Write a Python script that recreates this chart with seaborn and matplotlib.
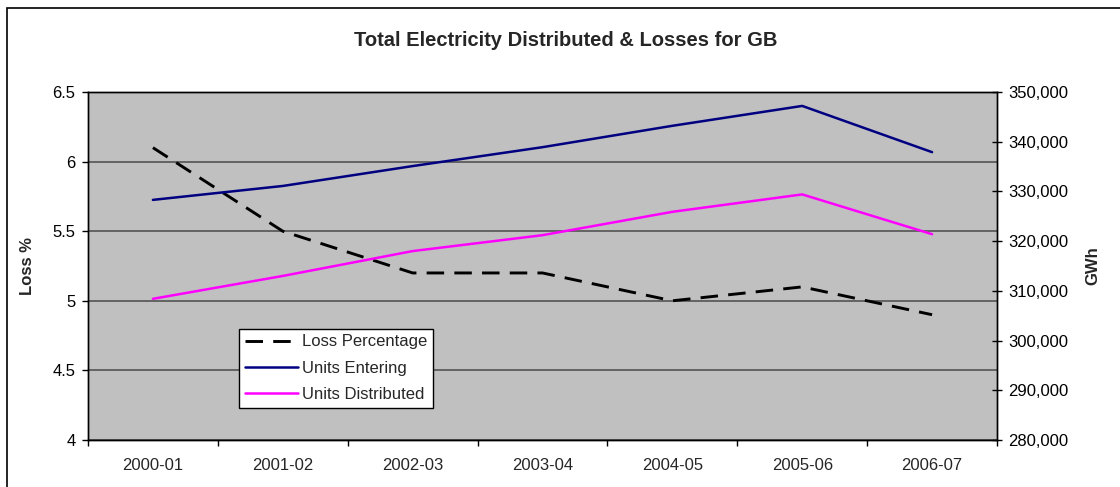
import numpy as np
import pandas as pd
import matplotlib
matplotlib.use("Agg")
import matplotlib.pyplot as plt
from matplotlib.patches import Rectangle
from matplotlib.ticker import FuncFormatter, FixedLocator, NullFormatter
import seaborn as sns

# Financial years
years = ["2000-01", "2001-02", "2002-03", "2003-04", "2004-05", "2005-06", "2006-07"]
# Distribution losses as a percentage of units entering
loss_pct = [6.1, 5.5, 5.2, 5.2, 5.0, 5.1, 4.9]
# Energy volumes, GWh
units_entering = [328300, 331100, 335100, 338900, 343200, 347200, 337900]
units_distributed = [308400, 313000, 318000, 321200, 325900, 329400, 321400]

sns.set_style("ticks")
plt.rcParams["font.family"] = ["Liberation Sans", "DejaVu Sans"]
plt.rcParams["font.size"] = 12

FS = 12

df = pd.DataFrame({
    "pos": np.arange(len(years)),
    "year": years,
    "loss": loss_pct,
    "entering": units_entering,
    "distributed": units_distributed,
})

fig = plt.figure(figsize=(11.2, 4.87), dpi=100)
ax = fig.add_axes([88 / 1120, 1 - 440 / 487, 909 / 1120, 348 / 487])
ax2 = ax.twinx()

ax.set_facecolor("#C0C0C0")
ax2.set_facecolor("none")
ax.set_axisbelow(True)
ax.yaxis.grid(True, color="#4a4a4a", linewidth=1.1)

sns.lineplot(data=df, x="pos", y="loss", ax=ax, color="black", linewidth=2.1,
             linestyle=(0, (6, 3.5)), label="Loss Percentage", legend=False)
sns.lineplot(data=df, x="pos", y="entering", ax=ax2, color="#000080", linewidth=1.8,
             label="Units Entering", legend=False)
sns.lineplot(data=df, x="pos", y="distributed", ax=ax2, color="#FF00FF", linewidth=1.8,
             label="Units Distributed", legend=False)

# Left axis: loss percentage
ax.set_ylim(4, 6.5)
ax.set_yticks(np.arange(4, 6.51, 0.5))
ax.set_yticklabels(["4", "4.5", "5", "5.5", "6", "6.5"])
ax.tick_params(axis="y", direction="out", length=4, width=1, pad=5, colors="black",
               labelsize=FS)

# Right axis: GWh
ax2.set_ylim(280000, 350000)
ax2.set_yticks(np.arange(280000, 350001, 10000))
ax2.yaxis.set_major_formatter(FuncFormatter(lambda v, p: f"{v:,.0f}"))
ax2.tick_params(axis="y", direction="inout", length=6.5, width=1, pad=5, colors="black",
                labelsize=FS)

# Category axis with tick marks between categories
ax.set_xlim(-0.5, len(years) - 0.5)
ax.xaxis.set_major_locator(FixedLocator(df["pos"].tolist()))
ax.set_xticklabels(years)
ax.xaxis.set_minor_locator(FixedLocator(np.arange(-0.5, len(years), 1.0)))
ax.xaxis.set_minor_formatter(NullFormatter())
ax.tick_params(axis="x", which="major", length=0, pad=13, labelsize=FS)
ax.tick_params(axis="x", which="minor", direction="out", length=4.5, width=1, colors="black")

for a in (ax, ax2):
    for s in a.spines.values():
        s.set_color("black")
        s.set_linewidth(1.0)
        s.set_visible(True)

ax.set_xlabel("")
ax.set_ylabel("Loss %", fontweight="bold", fontsize=FS)
ax.yaxis.set_label_coords(-0.058, 0.5)
ax2.set_ylabel("GWh", fontweight="bold", fontsize=FS, rotation=90)
ax2.yaxis.set_label_coords(1.097, 0.5)

fig.text(0.505, 1 - 40 / 487, "Total Electricity Distributed & Losses for GB",
         ha="center", va="center", fontsize=14.5, fontweight="bold")

h1, l1 = ax.get_legend_handles_labels()
h2, l2 = ax2.get_legend_handles_labels()
leg = ax2.legend(h1 + h2, l1 + l2, loc="lower left", bbox_to_anchor=(0.166, 0.092),
                 borderaxespad=0, fancybox=False, framealpha=1, edgecolor="black",
                 facecolor="white", handlelength=3.2, handletextpad=0.25,
                 labelspacing=0.68, borderpad=0.35, fontsize=FS)
leg.get_frame().set_linewidth(1.0)

# Outer chart border
fig.patches.append(Rectangle((7 / 1120, -0.2), 1.2, 1.2 - 8 / 487, transform=fig.transFigure,
                             fill=False, edgecolor="black", linewidth=1.2, clip_on=False))

fig.savefig("out.png", dpi=100, facecolor="white")
